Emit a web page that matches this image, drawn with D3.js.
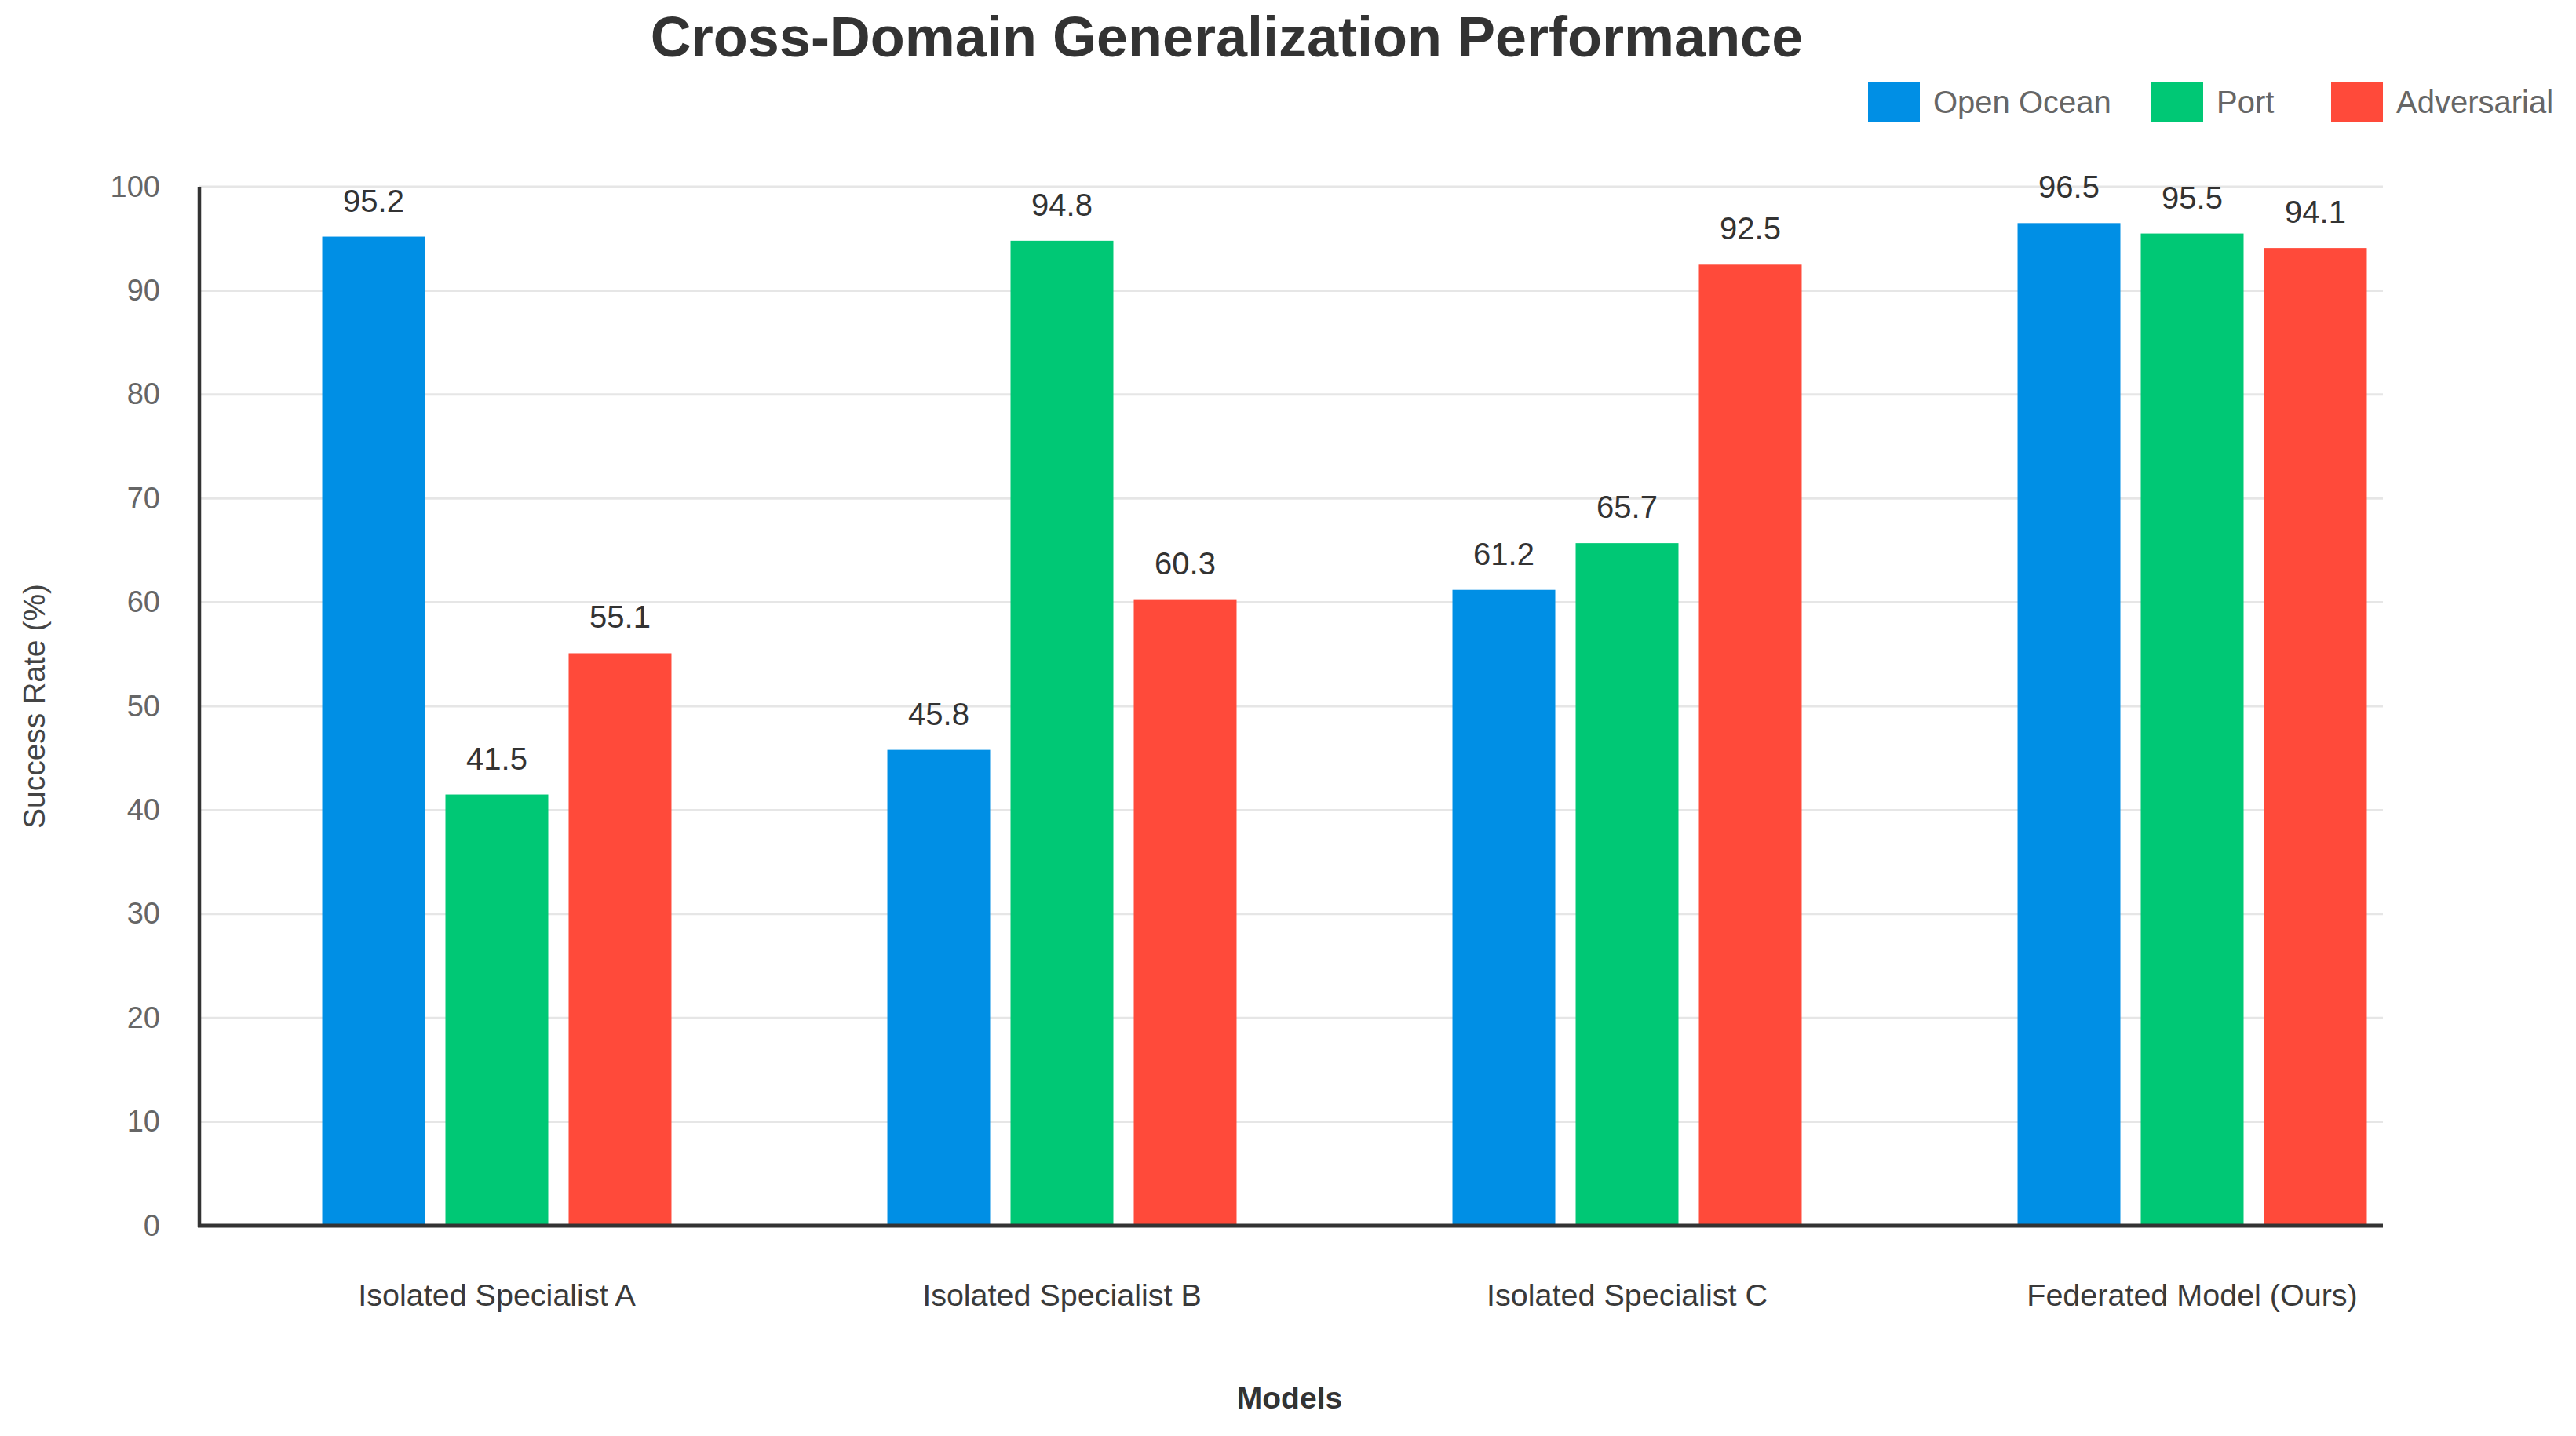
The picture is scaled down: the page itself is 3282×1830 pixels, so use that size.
<!DOCTYPE html>
<html>
<head>
<meta charset="utf-8">
<script src="https://cdn.jsdelivr.net/npm/d3@7"></script>
<style>
  html, body { margin: 0; padding: 0; background: #ffffff; }
  svg { display: block; font-family: "Liberation Sans", Arial, Helvetica, sans-serif; }
</style>
</head>
<body>
<svg id="chart" width="3282" height="1830"></svg>
<script>
// ---- data ----
const categories = ["Isolated Specialist A", "Isolated Specialist B", "Isolated Specialist C", "Federated Model (Ours)"];
const seriesNames = ["Open Ocean", "Port", "Adversarial"];
const openOcean = [95.2, 45.8, 61.2, 96.5];
const port = [41.5, 94.8, 65.7, 95.5];
const adversarial = [55.1, 60.3, 92.5, 94.1];
const yTicks = [0, 10, 20, 30, 40, 50, 60, 70, 80, 90, 100];
const seriesColors = ["#008fe5", "#00c875", "#ff4a3a"];

const seriesValues = [openOcean, port, adversarial];
const table = categories.map((c, i) => ({
  category: c,
  values: seriesNames.map((s, j) => ({ series: s, value: seriesValues[j][i], color: seriesColors[j] }))
}));

// ---- layout ----
const svg = d3.select("#chart");
const plot = { left: 254, right: 3036, top: 238, bottom: 1562 };

const y = d3.scaleLinear().domain([0, 100]).range([plot.bottom, plot.top]);
const x0 = d3.scaleBand().domain(categories).range([273, 3153]).paddingInner(0.382).paddingOuter(0.191);
const x1 = d3.scaleBand().domain(seriesNames).range([0, x0.bandwidth()]).paddingInner(0.1656).paddingOuter(0);

// title
svg.append("text")
  .attr("x", 1563).attr("y", 72)
  .attr("text-anchor", "middle")
  .attr("font-size", 72).attr("font-weight", "bold")
  .attr("fill", "#333")
  .text("Cross-Domain Generalization Performance");

// gridlines
svg.append("g")
  .selectAll("line")
  .data(yTicks)
  .join("line")
  .attr("x1", plot.left).attr("x2", plot.right)
  .attr("y1", d => y(d)).attr("y2", d => y(d))
  .attr("stroke", "#e6e6e6").attr("stroke-width", 3);

// y axis via d3.axisLeft
const yAxis = d3.axisLeft(y).tickValues(yTicks).tickSize(0).tickPadding(50).tickFormat(d3.format("d"));
const gy = svg.append("g").attr("transform", `translate(${plot.left},0)`).call(yAxis);
gy.select(".domain").remove();
gy.selectAll("text").attr("font-size", 38).attr("fill", "#666").attr("font-family", "Liberation Sans, Arial, sans-serif");

// bars
const groups = svg.append("g")
  .selectAll("g")
  .data(table)
  .join("g")
  .attr("transform", d => `translate(${x0(d.category)},0)`);

groups.selectAll("rect")
  .data(d => d.values)
  .join("rect")
  .attr("x", d => x1(d.series))
  .attr("width", x1.bandwidth())
  .attr("y", d => y(d.value))
  .attr("height", d => y(0) - y(d.value))
  .attr("fill", d => d.color);

// value labels
groups.selectAll("text.val")
  .data(d => d.values)
  .join("text")
  .attr("class", "val")
  .attr("x", d => x1(d.series) + x1.bandwidth() / 2)
  .attr("y", d => y(d.value) - 32)
  .attr("text-anchor", "middle")
  .attr("font-size", 40)
  .attr("fill", "#333")
  .text(d => d.value.toFixed(1));

// axis lines
svg.append("line")
  .attr("x1", plot.left).attr("x2", plot.left)
  .attr("y1", plot.top).attr("y2", plot.bottom + 2)
  .attr("stroke", "#333").attr("stroke-width", 4.5);
svg.append("line")
  .attr("x1", plot.left - 2).attr("x2", plot.right)
  .attr("y1", plot.bottom).attr("y2", plot.bottom)
  .attr("stroke", "#333").attr("stroke-width", 5);

// x axis category labels via d3.axisBottom
const xAxis = d3.axisBottom(x0).tickSize(0).tickPadding(74);
const gx = svg.append("g").attr("transform", `translate(0,${plot.bottom})`).call(xAxis);
gx.select(".domain").remove();
gx.selectAll("text").attr("font-size", 39.5).attr("fill", "#3a3a3a").attr("font-family", "Liberation Sans, Arial, sans-serif");

// axis titles
svg.append("text")
  .attr("x", 1643).attr("y", 1795)
  .attr("text-anchor", "middle")
  .attr("font-size", 39).attr("font-weight", "bold").attr("fill", "#333")
  .text("Models");

svg.append("text")
  .attr("transform", "translate(57,900) rotate(-90)")
  .attr("text-anchor", "middle")
  .attr("font-size", 39).attr("fill", "#444")
  .text("Success Rate (%)");

// legend
const legendX = [2380, 2741, 2970];
const legend = svg.append("g")
  .selectAll("g")
  .data(seriesNames)
  .join("g")
  .attr("transform", (d, i) => `translate(${legendX[i]},105)`);
legend.append("rect")
  .attr("width", 66).attr("height", 50)
  .attr("fill", (d, i) => seriesColors[i]);
legend.append("text")
  .attr("x", 83).attr("y", 39)
  .attr("font-size", 40).attr("fill", "#666")
  .text(d => d);
</script>
</body>
</html>
